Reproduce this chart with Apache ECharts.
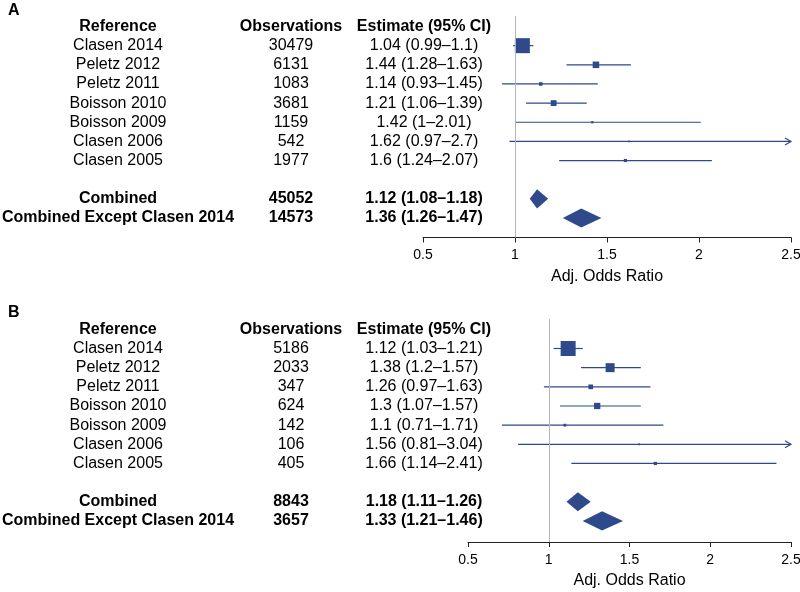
<!DOCTYPE html>
<html>
<head>
<meta charset="utf-8">
<script src="https://cdn.jsdelivr.net/npm/echarts@6/dist/echarts.min.js"></script>
<style>
  html, body { margin: 0; padding: 0; background: #fff; }
  #chart { width: 800px; height: 592px; }
</style>
</head>
<body>
<div id="chart"></div>
<script>
// studies, same order in both panels
var refs = ['Clasen 2014', 'Peletz 2012', 'Peletz 2011', 'Boisson 2010', 'Boisson 2009', 'Clasen 2006', 'Clasen 2005'];
var summaryNames = ['Combined', 'Combined Except Clasen 2014'];
var xTicks = [0.5, 1, 1.5, 2, 2.5];

// panel A
var obsA = [30479, 6131, 1083, 3681, 1159, 542, 1977];
var estA = [1.04, 1.44, 1.14, 1.21, 1.42, 1.62, 1.6];
var lowA = [0.99, 1.28, 0.93, 1.06, 1, 0.97, 1.24];
var highA = [1.1, 1.63, 1.45, 1.39, 2.01, 2.7, 2.07];
var sumObsA = [45052, 14573];
var sumEstA = [1.12, 1.36];
var sumLowA = [1.08, 1.26];
var sumHighA = [1.18, 1.47];

// panel B
var obsB = [5186, 2033, 347, 624, 142, 106, 405];
var estB = [1.12, 1.38, 1.26, 1.3, 1.1, 1.56, 1.66];
var lowB = [1.03, 1.2, 0.97, 1.07, 0.71, 0.81, 1.14];
var highB = [1.21, 1.57, 1.63, 1.57, 1.71, 3.04, 2.41];
var sumObsB = [8843, 3657];
var sumEstB = [1.18, 1.33];
var sumLowB = [1.11, 1.21];
var sumHighB = [1.26, 1.46];

var NAVY = '#2e4a8a';
var FONT = '"Liberation Sans", Arial, sans-serif';
var COL_REF = 118, COL_OBS = 291, COL_EST = 424;
var XMIN = xTicks[0], XMAX = xTicks[xTicks.length - 1];

function buildRows(obs, est, low, high, sObs, sEst, sLow, sHigh) {
  var rows = [];
  // box side ~ 1/se on the log scale
  var se = est.map(function (e, i) { return (Math.log(high[i]) - Math.log(low[i])) / 3.92; });
  var minSe = Math.min.apply(null, se);
  refs.forEach(function (r, i) {
    rows.push({ name: r, obs: obs[i], est: est[i], lo: low[i], hi: high[i], row: i + 1, summary: false, info: minSe / se[i] });
  });
  summaryNames.forEach(function (r, i) {
    rows.push({ name: r, obs: sObs[i], est: sEst[i], lo: sLow[i], hi: sHigh[i], row: refs.length + 2 + i, summary: true });
  });
  return rows;
}

var rowsA = buildRows(obsA, estA, lowA, highA, sumObsA, sumEstA, sumLowA, sumHighA);
var rowsB = buildRows(obsB, estB, lowB, highB, sumObsB, sumEstB, sumLowB, sumHighB);

function txt(s, x, y, bold) {
  return {
    type: 'text',
    style: {
      text: s, x: x, y: y,
      align: 'center', verticalAlign: 'middle',
      textAlign: 'center', textVerticalAlign: 'middle',
      font: (bold ? 'bold ' : '') + '16px ' + FONT,
      fill: '#000'
    }
  };
}

function makeRender(rows) {
  return function (params, api) {
    var r = rows[params.dataIndex];
    var y = api.coord([r.est, r.row])[1];
    var rowH = api.size([0, 1])[1];
    var kids = [];
    kids.push(txt(r.name, COL_REF, y, r.summary));
    kids.push(txt(String(r.obs), COL_OBS, y, r.summary));
    kids.push(txt(r.est + ' (' + r.lo + '\u2013' + r.hi + ')', COL_EST, y, r.summary));
    var cx = api.coord([r.est, r.row])[0];
    if (r.summary) {
      var xl = api.coord([r.lo, r.row])[0], xh = api.coord([r.hi, r.row])[0];
      var h = rowH * 0.5;
      kids.push({ type: 'polygon', shape: { points: [[xl, y], [cx, y - h], [xh, y], [cx, y + h]] }, style: { fill: NAVY } });
    } else {
      var x1 = api.coord([Math.max(r.lo, XMIN), r.row])[0];
      var x2 = api.coord([Math.min(r.hi, XMAX), r.row])[0];
      kids.push({ type: 'line', shape: { x1: x1, y1: y, x2: x2, y2: y }, style: { stroke: NAVY, lineWidth: 1.2 } });
      if (r.hi > XMAX) {
        kids.push({ type: 'polyline', shape: { points: [[x2 - 6, y - 3.5], [x2, y], [x2 - 6, y + 3.5]] }, style: { stroke: NAVY, lineWidth: 1.2, fill: null } });
      }
      var s = Math.max(15 * r.info, 1.5);
      kids.push({ type: 'rect', shape: { x: cx - s / 2, y: y - s / 2, width: s, height: s }, style: { fill: NAVY } });
    }
    return { type: 'group', children: kids };
  };
}

function headerRender(params, api) {
  var y = api.coord([1, 0])[1];
  return {
    type: 'group',
    children: [
      txt('Reference', COL_REF, y, true),
      txt('Observations', COL_OBS, y, true),
      txt('Estimate (95% CI)', COL_EST, y, true)
    ]
  };
}

function xAxisOpt(gridIndex) {
  return {
    gridIndex: gridIndex,
    type: 'value',
    position: 'bottom',
    min: XMIN, max: XMAX, interval: 0.5,
    splitLine: { show: false },
    axisLine: { onZero: false, lineStyle: { color: '#222', width: 1 } },
    axisTick: { show: true, length: 5, inside: false, lineStyle: { color: '#222' } },
    axisLabel: { color: '#000', fontSize: 14, fontFamily: FONT, margin: 11 },
    name: 'Adj. Odds Ratio',
    nameLocation: 'middle',
    nameGap: 31,
    nameTextStyle: { color: '#000', fontSize: 16, fontFamily: FONT }
  };
}

function yAxisOpt(gridIndex, min, max) {
  return { gridIndex: gridIndex, type: 'value', inverse: true, min: min, max: max, show: false };
}

function panelSeries(idx, rows) {
  return [
    {
      type: 'custom', xAxisIndex: idx, yAxisIndex: idx, clip: false, silent: true,
      data: rows.map(function (r) { return [r.est, r.row, r.lo, r.hi]; }),
      renderItem: makeRender(rows),
      markLine: {
        silent: true, symbol: 'none', label: { show: false },
        lineStyle: { color: '#b5b5b5', width: 1, type: 'solid' },
        data: [{ xAxis: 1 }]
      }
    },
    {
      type: 'custom', xAxisIndex: idx, yAxisIndex: idx, clip: false, silent: true,
      data: [[1, 0]],
      renderItem: headerRender
    }
  ];
}

var chart = echarts.init(document.getElementById('chart'), null, { renderer: 'canvas' });
chart.setOption({
  animation: false,
  backgroundColor: '#fff',
  title: [
    { text: 'A', left: 8, top: 3, padding: 0, textStyle: { fontSize: 16, fontWeight: 'bold', color: '#000', fontFamily: FONT } },
    { text: 'B', left: 8, top: 305, padding: 0, textStyle: { fontSize: 16, fontWeight: 'bold', color: '#000', fontFamily: FONT } }
  ],
  grid: [
    { left: 423, right: 9, top: 16, height: 221.5, outerBoundsMode: 'none' },
    { left: 468, right: 9, top: 319, height: 223, outerBoundsMode: 'none' }
  ],
  xAxis: [xAxisOpt(0), xAxisOpt(1)],
  yAxis: [yAxisOpt(0, -0.55, 11.02), yAxisOpt(1, -0.54, 11.1)],
  series: panelSeries(0, rowsA).concat(panelSeries(1, rowsB))
});
</script>
</body>
</html>
